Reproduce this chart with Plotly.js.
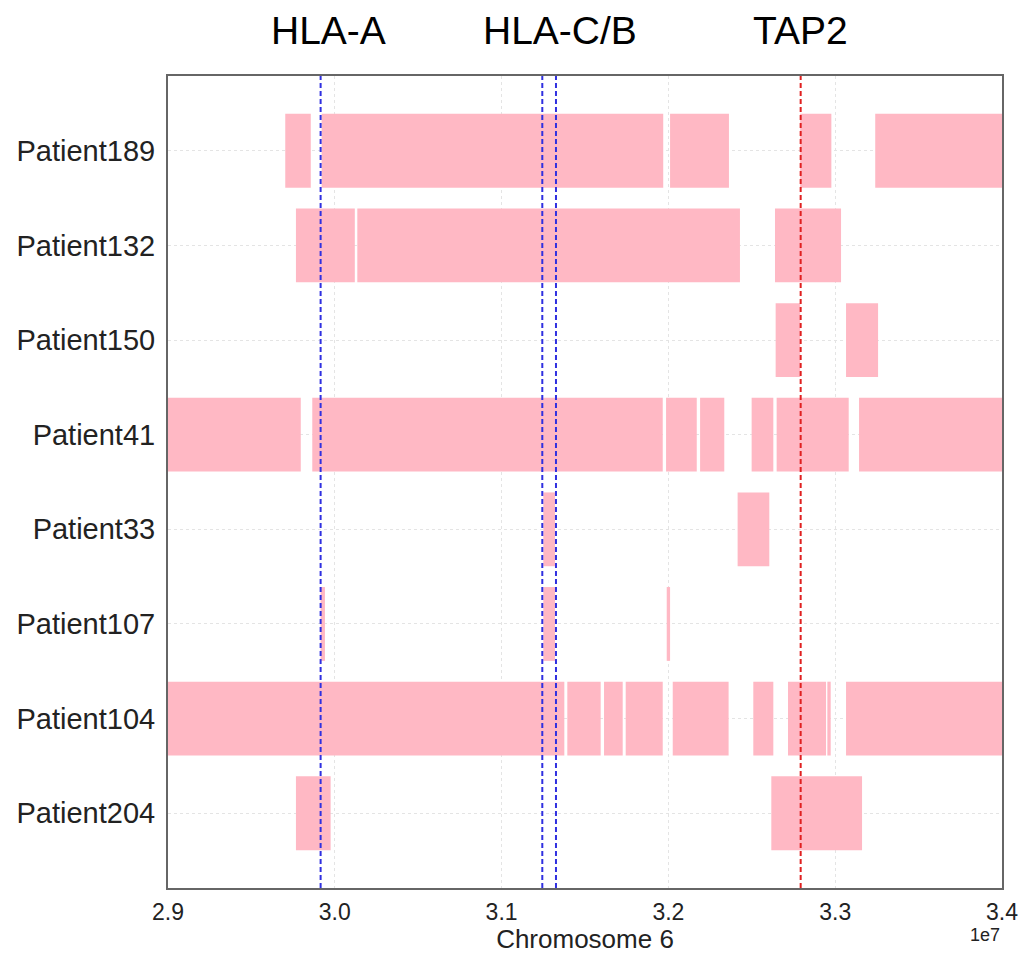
<!DOCTYPE html>
<html><head><meta charset="utf-8">
<script src="https://cdn.plot.ly/plotly-3.0.1.min.js"></script>
<style>html,body{margin:0;padding:0;background:#fff}</style>
</head><body><div id="chart" style="width:1019px;height:954px"></div>
<script>
// Categories (top to bottom)
const patients = ['Patient189','Patient132','Patient150','Patient41','Patient33','Patient107','Patient104','Patient204'];

// Segments (base pairs on chromosome 6)
const segPatient = [
  'Patient189','Patient189','Patient189','Patient189','Patient189',
  'Patient132','Patient132','Patient132',
  'Patient150','Patient150',
  'Patient41','Patient41','Patient41','Patient41','Patient41','Patient41','Patient41',
  'Patient33','Patient33',
  'Patient107','Patient107','Patient107',
  'Patient104','Patient104','Patient104','Patient104','Patient104','Patient104','Patient104','Patient104','Patient104',
  'Patient204','Patient204'
];
const segStart = [
  29703000, 29921000, 32010000, 32790000, 33240000,
  29767000, 30135000, 32639000,
  32643000, 33065000,
  28900000, 29865000, 31986000, 32190000, 32499000, 32649000, 33143000,
  31250000, 32415000,
  29915000, 31250000, 31990000,
  28900000, 31394000, 31614000, 31744000, 32026000, 32509000, 32717000, 32953000, 33065000,
  29767000, 32617000
];
const segEnd = [
  29856000, 31969000, 32363000, 32977000, 34100000,
  30120000, 32429000, 33035000,
  32790000, 33257000,
  29796000, 31966000, 32170000, 32335000, 32629000, 33081000, 34100000,
  31320000, 32605000,
  29941000, 31320000, 32010000,
  31376000, 31594000, 31726000, 31966000, 32361000, 32629000, 32945000, 32973000, 34100000,
  29975000, 33161000
];

// Gene marker positions
const hlaLines = [29915000, 31244000, 31326000];
const tapLines = [32793000];
const geneLabels = ['HLA-A', 'HLA-C/B', 'TAP2'];
const geneLabelX = [29965000, 31350000, 32789000];

// X ticks
const tickVals = [29000000, 30000000, 31000000, 32000000, 33000000, 34000000];
const tickText = ['2.9', '3.0', '3.1', '3.2', '3.3', '3.4'];

const FONT = 'Liberation Sans, Arial, Helvetica, sans-serif';

const trace = {
  type: 'bar',
  orientation: 'h',
  y: segPatient,
  base: segStart,
  x: segStart.map((s, i) => segEnd[i] - s),
  width: 0.78,
  marker: {color: '#ffb8c4', line: {width: 0}},
  hoverinfo: 'skip',
  showlegend: false
};

const shapes = [];
hlaLines.forEach(v => shapes.push({type: 'line', xref: 'x', yref: 'paper', x0: v, x1: v, y0: 0, y1: 1,
  line: {color: '#3030e0', width: 2, dash: '5px,3px'}, layer: 'above'}));
tapLines.forEach(v => shapes.push({type: 'line', xref: 'x', yref: 'paper', x0: v, x1: v, y0: 0, y1: 1,
  line: {color: '#e02020', width: 2, dash: '5px,3px'}, layer: 'above'}));

const annotations = geneLabels.map((t, i) => ({
  text: t, xref: 'x', yref: 'paper', x: geneLabelX[i], y: 1.056,
  xanchor: 'center', yanchor: 'middle', showarrow: false,
  font: {family: FONT, size: 39, color: '#000'}
}));
annotations.push({text: '1e7', xref: 'paper', yref: 'paper', x: 1.0, y: -0.058,
  xanchor: 'right', yanchor: 'middle', showarrow: false,
  font: {family: FONT, size: 18, color: '#222'}});

const layout = {
  width: 1019, height: 954,
  margin: {l: 168, r: 17, t: 76, b: 66},
  paper_bgcolor: '#fff', plot_bgcolor: '#fff',
  barmode: 'overlay',
  font: {family: FONT, color: '#222'},
  xaxis: {
    range: [29000000, 34000000],
    tickmode: 'array', tickvals: tickVals, ticktext: tickText,
    tickfont: {family: FONT, size: 23, color: '#222'},
    ticks: '', showgrid: true, gridcolor: '#e4e4e4', griddash: 'dot', gridwidth: 1,
    zeroline: false, showline: true, mirror: true, linecolor: '#666', linewidth: 2,
    ticklabelstandoff: 2,
    title: {text: 'Chromosome 6', font: {family: FONT, size: 26, color: '#222'}, standoff: 2}
  },
  yaxis: {
    type: 'category', categoryorder: 'array', categoryarray: patients,
    range: [7.79, -0.79],
    tickfont: {family: FONT, size: 29, color: '#222'},
    ticks: '', showgrid: true, gridcolor: '#e4e4e4', griddash: 'dot', gridwidth: 1,
    zeroline: false, showline: true, mirror: true, linecolor: '#666', linewidth: 2,
    ticklabelstandoff: 5
  },
  shapes: shapes,
  annotations: annotations
};

Plotly.newPlot('chart', [trace], layout, {displayModeBar: false, staticPlot: true});
</script>
</body></html>
